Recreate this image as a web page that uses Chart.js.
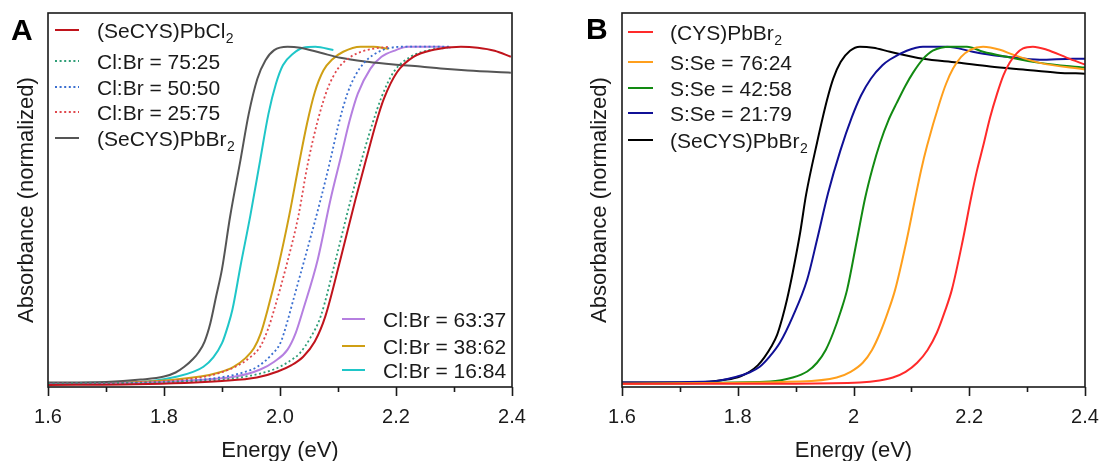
<!DOCTYPE html>
<html>
<head>
<meta charset="utf-8">
<title>Absorbance (normalized) vs Energy</title>
<script src="https://cdn.jsdelivr.net/npm/chart.js@4.4.1/dist/chart.umd.min.js"></script>
<style>
  html, body { margin: 0; padding: 0; background: #fff; }
  #lienzo { position: relative; width: 1101px; height: 461px; overflow: hidden; }
  #graficoA { position: absolute; left: 0; top: 0; }
  #graficoB { position: absolute; left: 560px; top: 0; }
</style>
</head>
<body>
<div id="lienzo">
  <canvas id="graficoA" width="540" height="461"></canvas>
  <canvas id="graficoB" width="541" height="461"></canvas>
</div>
<script>
/* ── DATOS: leídos a ojo de la figura (energía en eV, absorbancia normalizada) ── */

/* Marcas del eje X */
var ticksEnergia = [1.6, 1.8, 2.0, 2.2, 2.4];
var etiquetasA = ['1.6', '1.8', '2.0', '2.2', '2.4'];
var etiquetasB = ['1.6', '1.8', '2', '2.2', '2.4'];

/* Panel A — nombres de las series */
var nombresA = ['(SeCYS)PbCl₂', 'Cl:Br = 75:25', 'Cl:Br = 50:50', 'Cl:Br = 25:75',
                '(SeCYS)PbBr₂', 'Cl:Br = 63:37', 'Cl:Br = 38:62', 'Cl:Br = 16:84'];

var eA_Cl = [1.60, 1.75, 1.90, 1.96, 1.996, 2.02, 2.040, 2.06, 2.078, 2.104, 2.130, 2.153, 2.165, 2.179, 2.202, 2.230, 2.265, 2.312, 2.341, 2.370, 2.398];
var aA_Cl = [-0.004, -0.002, 0.008, 0.018, 0.036, 0.055, 0.080, 0.125, 0.199, 0.368, 0.546, 0.694, 0.77, 0.845, 0.925, 0.97, 0.991, 1.0, 0.997, 0.988, 0.970];

var eA_7525 = [1.60, 1.75, 1.90, 1.95, 1.989, 2.015, 2.035, 2.052, 2.070, 2.096, 2.122, 2.145, 2.160, 2.175, 2.196, 2.225, 2.260, 2.289];
var aA_7525 = [0.0, 0.002, 0.012, 0.024, 0.042, 0.065, 0.092, 0.135, 0.199, 0.368, 0.546, 0.69, 0.775, 0.85, 0.925, 0.97, 0.991, 0.997];

var eA_5050 = [1.60, 1.78, 1.906, 1.94, 1.961, 1.985, 2.001, 2.012, 2.023, 2.047, 2.070, 2.087, 2.101, 2.116, 2.13, 2.145, 2.161, 2.191, 2.220, 2.294];
var aA_5050 = [0.0, 0.003, 0.021, 0.035, 0.05, 0.085, 0.122, 0.18, 0.249, 0.398, 0.546, 0.665, 0.77, 0.86, 0.915, 0.952, 0.976, 0.997, 1.0, 1.0];

var eA_2575 = [1.60, 1.75, 1.871, 1.923, 1.95, 1.966, 1.98, 1.990, 2.011, 2.032, 2.047, 2.065, 2.082, 2.10, 2.12, 2.14, 2.161, 2.188];
var aA_2575 = [0.0, 0.004, 0.021, 0.05, 0.08, 0.11, 0.165, 0.22, 0.35, 0.50, 0.645, 0.78, 0.875, 0.935, 0.968, 0.985, 0.994, 1.0];

var eA_Br = [1.60, 1.70, 1.76, 1.80, 1.82, 1.835, 1.85, 1.86, 1.87, 1.88, 1.89, 1.90, 1.914, 1.932, 1.946, 1.961, 1.975, 1.99, 2.013, 2.035, 2.070, 2.104, 2.151, 2.196, 2.242, 2.277, 2.324, 2.398];
var aA_Br = [0.003, 0.005, 0.012, 0.021, 0.033, 0.05, 0.073, 0.094, 0.125, 0.18, 0.26, 0.34, 0.496, 0.665, 0.80, 0.905, 0.96, 0.99, 1.0, 0.997, 0.982, 0.967, 0.955, 0.947, 0.941, 0.935, 0.929, 0.923];

var eA_6337 = [1.60, 1.75, 1.85, 1.923, 1.966, 1.99, 2.013, 2.027, 2.040, 2.065, 2.087, 2.106, 2.120, 2.134, 2.156, 2.175, 2.20, 2.220, 2.277, 2.294];
var aA_6337 = [0.0, 0.002, 0.01, 0.021, 0.042, 0.065, 0.101, 0.15, 0.22, 0.368, 0.546, 0.68, 0.78, 0.86, 0.935, 0.97, 0.99, 1.0, 1.0, 0.997];

var eA_3862 = [1.60, 1.75, 1.863, 1.895, 1.92, 1.94, 1.955, 1.967, 1.978, 1.997, 2.016, 2.033, 2.047, 2.06, 2.075, 2.09, 2.109, 2.139, 2.161, 2.187];
var aA_3862 = [0.0, 0.004, 0.021, 0.033, 0.05, 0.075, 0.105, 0.15, 0.215, 0.347, 0.50, 0.655, 0.775, 0.865, 0.93, 0.962, 0.985, 1.0, 1.0, 0.994];

var eA_1684 = [1.60, 1.70, 1.78, 1.823, 1.85, 1.868, 1.885, 1.90, 1.91, 1.918, 1.932, 1.949, 1.966, 1.980, 1.993, 2.005, 2.023, 2.040, 2.061, 2.092];
var aA_1684 = [0.0, 0.003, 0.008, 0.021, 0.035, 0.05, 0.078, 0.12, 0.17, 0.22, 0.35, 0.50, 0.665, 0.80, 0.89, 0.945, 0.98, 0.997, 1.0, 0.99];

/* Panel B — nombres de las series */
var nombresB = ['(CYS)PbBr₂', 'S:Se = 76:24', 'S:Se = 42:58', 'S:Se = 21:79', '(SeCYS)PbBr₂'];

var eB_S = [1.600, 1.900, 2.011, 2.045, 2.068, 2.09, 2.110, 2.128, 2.144, 2.158, 2.170, 2.189, 2.203, 2.213, 2.224, 2.236, 2.248, 2.259, 2.270, 2.282, 2.293, 2.310, 2.334, 2.369, 2.400];
var aB_S = [0.0, 0.0, 0.003, 0.009, 0.018, 0.035, 0.062, 0.10, 0.151, 0.215, 0.279, 0.427, 0.55, 0.63, 0.705, 0.79, 0.86, 0.915, 0.953, 0.98, 0.995, 1.0, 0.991, 0.967, 0.947];

var eB_7624 = [1.600, 1.908, 1.971, 1.995, 2.016, 2.032, 2.046, 2.06, 2.072, 2.092, 2.106, 2.117, 2.127, 2.149, 2.16, 2.172, 2.186, 2.201, 2.224, 2.253, 2.276, 2.322, 2.400];
var aB_7624 = [0.0, 0.006, 0.018, 0.035, 0.062, 0.10, 0.151, 0.215, 0.279, 0.427, 0.545, 0.635, 0.705, 0.835, 0.89, 0.935, 0.97, 0.99, 1.0, 0.991, 0.976, 0.952, 0.932];

var eB_4258 = [1.600, 1.856, 1.895, 1.92, 1.937, 1.952, 1.965, 1.978, 1.989, 2.006, 2.020, 2.033, 2.046, 2.06, 2.075, 2.09, 2.103, 2.12, 2.137, 2.167, 2.196, 2.224, 2.265, 2.322, 2.400];
var aB_4258 = [0.0, 0.006, 0.018, 0.036, 0.062, 0.10, 0.151, 0.215, 0.279, 0.427, 0.55, 0.64, 0.715, 0.78, 0.834, 0.885, 0.923, 0.963, 0.988, 1.0, 1.0, 0.985, 0.970, 0.952, 0.938];

var eB_2179 = [1.600, 1.752, 1.799, 1.82, 1.838, 1.855, 1.873, 1.895, 1.920, 1.937, 1.956, 1.977, 1.997, 2.013, 2.03, 2.05, 2.063, 2.092, 2.120, 2.162, 2.206, 2.236, 2.265, 2.322, 2.379, 2.400];
var aB_2179 = [0.003, 0.006, 0.021, 0.033, 0.05, 0.08, 0.122, 0.199, 0.309, 0.427, 0.565, 0.69, 0.79, 0.855, 0.905, 0.945, 0.962, 0.988, 1.0, 1.0, 0.985, 0.976, 0.970, 0.961, 0.964, 0.964];

var eB_Se = [1.600, 1.723, 1.781, 1.805, 1.821, 1.835, 1.846, 1.858, 1.868, 1.877, 1.885, 1.895, 1.908, 1.918, 1.937, 1.954, 1.965, 1.978, 1.994, 2.011, 2.034, 2.063, 2.120, 2.179, 2.236, 2.293, 2.352, 2.400];
var aB_Se = [0.003, 0.003, 0.012, 0.022, 0.036, 0.055, 0.078, 0.11, 0.145, 0.195, 0.249, 0.33, 0.45, 0.56, 0.715, 0.84, 0.905, 0.955, 0.988, 1.0, 0.997, 0.985, 0.964, 0.953, 0.941, 0.932, 0.923, 0.920];

/* ── CONFIGURACIÓN GLOBAL ── */
Chart.defaults.font.family = "'Liberation Sans', Arial, sans-serif";
Chart.defaults.color = '#1a1a1a';
var FUENTE = "'Liberation Sans', Arial, sans-serif";

/* Une un par de arreglos energía/absorbancia en un dataset de línea */
function serie(nombre, energia, abs, color, punteada) {
    var puntos = energia.map(function (e, i) { return { x: e, y: abs[i] }; });
    return {
        label: nombre,
        data: puntos,
        borderColor: color,
        borderWidth: punteada ? 1.8 : 2,
        borderDash: punteada ? [2, 2.6] : [],
        pointRadius: 0,
        fill: false,
        cubicInterpolationMode: 'monotone'
    };
}

/* Escribe un texto cambiando "₂" por un 2 en subíndice */
function textoConSubindice(ctx, texto, x, y) {
    var partes = texto.split('₂');
    ctx.font = '21px ' + FUENTE;
    ctx.fillText(partes[0], x, y);
    if (partes.length > 1) {
        var ancho = ctx.measureText(partes[0]).width;
        ctx.font = '14px ' + FUENTE;
        ctx.fillText('2', x + ancho + 0.5, y + 5);
    }
}

/* ── PLUGIN: marco, marcas del eje, letra del panel y leyenda ── */
var pluginMarco = {
    id: 'marco',
    afterDraw: function (chart, args, opts) {
        var ctx = chart.ctx;
        var area = chart.chartArea;
        var ejeX = chart.scales.x;
        ctx.save();
        ctx.strokeStyle = '#1a1a1a';
        ctx.lineWidth = 1.6;
        ctx.setLineDash([]);
        ctx.strokeRect(area.left, area.top, area.right - area.left, area.bottom - area.top);
        /* marcas mayores (0.2) y menores (0.1) hacia afuera */
        ejeX.ticks.forEach(function (t) {
            var px = Math.round(ejeX.getPixelForValue(t.value)) + 0.5;
            var mayor = Math.round(t.value * 10) % 2 === 0;
            ctx.beginPath();
            ctx.moveTo(px, area.bottom);
            ctx.lineTo(px, area.bottom + (mayor ? 9 : 5));
            ctx.stroke();
        });
        /* letra del panel */
        ctx.fillStyle = '#000';
        ctx.font = 'bold 30px ' + FUENTE;
        ctx.fillText(opts.letra, opts.letraX, opts.letraY);
        /* leyenda */
        opts.leyenda.forEach(function (grupo) {
            grupo.filas.forEach(function (idx, k) {
                var ds = chart.data.datasets[idx];
                var y = grupo.y[k];
                ctx.strokeStyle = ds.borderColor;
                ctx.lineWidth = 2;
                ctx.setLineDash(ds.borderDash);
                ctx.beginPath();
                ctx.moveTo(grupo.x1, y);
                ctx.lineTo(grupo.x2, y);
                ctx.stroke();
                ctx.setLineDash([]);
                ctx.fillStyle = '#1a1a1a';
                textoConSubindice(ctx, ds.label, grupo.xt, y + 7.5);
            });
        });
        ctx.restore();
    }
};

/* Opciones comunes de los ejes */
function opcionesEjes(etiquetas, anchoY, paddingTitulo) {
    return {
        x: {
            type: 'linear',
            min: 1.6,
            max: 2.4,
            afterFit: function (s) {
                s.height = 74;
                s.paddingLeft = 0;   /* sin relleno extra por la última etiqueta */
                s.paddingRight = 0;
            },
            grid: { display: false },
            border: { display: false },
            ticks: {
                stepSize: 0.1,
                autoSkip: false,
                maxRotation: 0,
                padding: 10,
                font: { size: 20 },
                callback: function (valor) {
                    for (var i = 0; i < ticksEnergia.length; i++) {
                        if (Math.abs(ticksEnergia[i] - valor) < 1e-6) return etiquetas[i];
                    }
                    return '';
                }
            },
            title: { display: true, text: 'Energy (eV)', font: { size: 22 }, padding: { top: 0, bottom: -3 } }
        },
        y: {
            min: -0.01,
            max: 1.1,
            afterFit: function (s) { s.width = anchoY; },
            grid: { display: false },
            border: { display: false },
            ticks: { display: false },
            title: { display: true, text: 'Absorbance (normalized)', font: { size: 22 }, padding: { top: paddingTitulo, bottom: 0 } }
        }
    };
}

/* ── PANEL A ── */
new Chart(document.getElementById('graficoA'), {
    type: 'line',
    data: {
        datasets: [
            serie(nombresA[0], eA_Cl, aA_Cl, '#c0141c', false),
            serie(nombresA[1], eA_7525, aA_7525, '#2f9e77', true),
            serie(nombresA[2], eA_5050, aA_5050, '#3b6fd0', true),
            serie(nombresA[3], eA_2575, aA_2575, '#e0474c', true),
            serie(nombresA[4], eA_Br, aA_Br, '#555555', false),
            serie(nombresA[5], eA_6337, aA_6337, '#b57fe0', false),
            serie(nombresA[6], eA_3862, aA_3862, '#cf9f14', false),
            serie(nombresA[7], eA_1684, aA_1684, '#1fc6c8', false)
        ]
    },
    options: {
        responsive: false,
        animation: false,
        layout: { padding: { top: 13, right: 28, left: 0, bottom: 0 } },
        plugins: {
            legend: { display: false },
            tooltip: { enabled: false },
            marco: {
                letra: 'A', letraX: 11, letraY: 40,
                leyenda: [
                    { filas: [0, 1, 2, 3, 4], y: [30, 61, 87, 112, 138], x1: 55, x2: 79, xt: 97 },
                    { filas: [5, 6, 7], y: [319, 346, 370], x1: 342, x2: 365, xt: 383 }
                ]
            }
        },
        scales: opcionesEjes(etiquetasA, 48, 14)
    },
    plugins: [pluginMarco]
});

/* ── PANEL B ── */
new Chart(document.getElementById('graficoB'), {
    type: 'line',
    data: {
        datasets: [
            serie(nombresB[0], eB_S, aB_S, '#ff2a2a', false),
            serie(nombresB[1], eB_7624, aB_7624, '#ff9f1c', false),
            serie(nombresB[2], eB_4258, aB_4258, '#128a12', false),
            serie(nombresB[3], eB_2179, aB_2179, '#101096', false),
            serie(nombresB[4], eB_Se, aB_Se, '#000000', false)
        ]
    },
    options: {
        responsive: false,
        animation: false,
        layout: { padding: { top: 13, right: 16, left: 0, bottom: 0 } },
        plugins: {
            legend: { display: false },
            tooltip: { enabled: false },
            marco: {
                letra: 'B', letraX: 26, letraY: 39,
                leyenda: [
                    { filas: [0, 1, 2, 3, 4], y: [32, 62, 88, 113, 140], x1: 68, x2: 93, xt: 110 }
                ]
            }
        },
        scales: opcionesEjes(etiquetasB, 62, 27)
    },
    plugins: [pluginMarco]
});
</script>
</body>
</html>
